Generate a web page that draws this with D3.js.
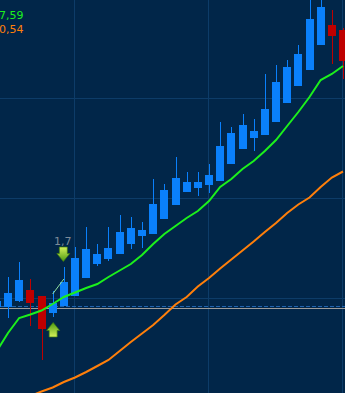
<!DOCTYPE html>
<html>
<head>
<meta charset="utf-8">
<script src="https://cdn.jsdelivr.net/npm/d3@7"></script>
<style>
  body { margin: 0; background: #012649; }
  svg { display: block; }
</style>
</head>
<body>
<script>
// Chart size
const width = 345;
const height = 393;

// Candle data: index, open, high, low, close
const idx   = [-1, 0, 1, 2, 3, 4, 5, 6, 7, 8, 9, 10, 11, 12, 13, 14, 15, 16, 17, 18, 19, 20, 21, 22, 23, 24, 25, 26, 27, 28, 29, 30];
const open  = [1.591, 1.591, 1.597, 1.608, 1.602, 1.585, 1.592, 1.602, 1.620, 1.634, 1.639, 1.644, 1.654, 1.662, 1.664, 1.679, 1.693, 1.706, 1.710, 1.713, 1.717, 1.734, 1.749, 1.760, 1.763, 1.776, 1.795, 1.812, 1.828, 1.853, 1.873, 1.868];
const high  = [1.598, 1.621, 1.636, 1.619, 1.602, 1.607, 1.631, 1.651, 1.671, 1.654, 1.671, 1.683, 1.681, 1.676, 1.719, 1.714, 1.741, 1.726, 1.726, 1.734, 1.776, 1.771, 1.784, 1.779, 1.824, 1.833, 1.838, 1.853, 1.906, 1.906, 1.888, 1.870];
const low   = [1.590, 1.580, 1.596, 1.572, 1.538, 1.581, 1.592, 1.602, 1.620, 1.632, 1.637, 1.644, 1.649, 1.650, 1.664, 1.679, 1.693, 1.706, 1.702, 1.705, 1.717, 1.734, 1.749, 1.747, 1.763, 1.776, 1.795, 1.812, 1.828, 1.853, 1.834, 1.819];
const close = [1.597, 1.605, 1.618, 1.595, 1.569, 1.595, 1.616, 1.640, 1.649, 1.644, 1.650, 1.666, 1.670, 1.668, 1.694, 1.708, 1.720, 1.716, 1.716, 1.723, 1.752, 1.765, 1.773, 1.767, 1.789, 1.816, 1.831, 1.844, 1.879, 1.891, 1.862, 1.837];

// Moving averages
const maFast = [1.547, 1.565, 1.580, 1.5835, 1.5875, 1.594, 1.601, 1.6055, 1.610, 1.614, 1.621, 1.6275, 1.634, 1.643, 1.654, 1.664, 1.672, 1.680, 1.687, 1.697, 1.711, 1.719, 1.729, 1.737, 1.747, 1.758, 1.772, 1.786, 1.801, 1.818, 1.824, 1.832];
const maSlow = [1.488, 1.492, 1.497, 1.502, 1.5065, 1.5105, 1.516, 1.5205, 1.526, 1.532, 1.538, 1.547, 1.556, 1.5645, 1.573, 1.583, 1.5935, 1.601, 1.6115, 1.620, 1.6295, 1.6385, 1.6475, 1.6565, 1.666, 1.675, 1.685, 1.6935, 1.7005, 1.711, 1.7205, 1.7265];

// Legend values, grid levels, levels and signals
const legendTexts = ["7,59", "0,54"];
const gridPrices = [1.6, 1.7, 1.8];
const gridIdx = [6, 18, 30];
const dashedLevel = 1.592;
const solidLevel = 1.590;
const trendSeg = [[4, 1.604], [5, 1.619]];
const signalLabel = "1,7";

const x = d3.scaleLinear().domain([0, 30]).range([8, 343]);
const y = d3.scaleLinear().domain([1.505, 1.898]).range([height, 0]);

const svg = d3.select("body")
    .append("svg")
    .attr("width", width)
    .attr("height", height);

svg.append("rect")
    .attr("width", width)
    .attr("height", height)
    .attr("fill", "#012649");

// gradient for arrows
const defs = svg.append("defs");
const grad = defs.append("linearGradient")
    .attr("id", "arrowGrad")
    .attr("x1", 0).attr("y1", 0).attr("x2", 0).attr("y2", 1);
grad.append("stop").attr("offset", "0%").attr("stop-color", "#d6f25a");
grad.append("stop").attr("offset", "100%").attr("stop-color", "#4c9a12");

// grid
svg.selectAll(".hgrid")
    .data(gridPrices)
    .enter()
    .append("line")
    .attr("x1", 0)
    .attr("x2", width)
    .attr("y1", d => Math.round(y(d)) + 0.5)
    .attr("y2", d => Math.round(y(d)) + 0.5)
    .attr("stroke", "#0d3c68")
    .attr("stroke-width", 1);

svg.selectAll(".vgrid")
    .data(gridIdx)
    .enter()
    .append("line")
    .attr("x1", d => Math.round(x(d)) - 0.5)
    .attr("x2", d => Math.round(x(d)) - 0.5)
    .attr("y1", 0)
    .attr("y2", height)
    .attr("stroke", "#0d3c68")
    .attr("stroke-width", 1);

// level lines
svg.append("line")
    .attr("x1", 0).attr("x2", width)
    .attr("y1", Math.round(y(dashedLevel)) + 0.5)
    .attr("y2", Math.round(y(dashedLevel)) + 0.5)
    .attr("stroke", "#2163ad")
    .attr("stroke-dasharray", "4,2");

svg.append("line")
    .attr("x1", 0).attr("x2", width)
    .attr("y1", Math.round(y(solidLevel)) + 0.5)
    .attr("y2", Math.round(y(solidLevel)) + 0.5)
    .attr("stroke", "#9c9c9c");

// candles
const candles = idx.map((d, i) => ({
    i: d, open: open[i], high: high[i], low: low[i], close: close[i]
}));

const g = svg.append("g");
const col = d => d.close >= d.open ? "#0a80fb" : "#bf0000";

g.selectAll(".wick")
    .data(candles)
    .enter()
    .append("rect")
    .attr("x", d => Math.round(x(d.i)))
    .attr("width", 1)
    .attr("y", d => y(d.high))
    .attr("height", d => y(d.low) - y(d.high))
    .attr("fill", col);

g.selectAll(".body")
    .data(candles)
    .enter()
    .append("rect")
    .attr("x", d => Math.round(x(d.i)) - 4)
    .attr("width", 8)
    .attr("y", d => y(Math.max(d.open, d.close)))
    .attr("height", d => Math.max(1, Math.abs(y(d.open) - y(d.close))))
    .attr("fill", col);

// moving averages
const line = d3.line()
    .x(d => x(d[0]))
    .y(d => y(d[1]));

svg.append("path")
    .datum(idx.map((d, i) => [d, maSlow[i]]))
    .attr("d", line)
    .attr("fill", "none")
    .attr("stroke", "#ff7f0a")
    .attr("stroke-width", 2);

svg.append("path")
    .datum(idx.map((d, i) => [d, maFast[i]]))
    .attr("d", line)
    .attr("fill", "none")
    .attr("stroke", "#1cf01c")
    .attr("stroke-width", 2);

// thin trend segment
svg.append("path")
    .datum(trendSeg)
    .attr("d", line)
    .attr("fill", "none")
    .attr("stroke", "#8fe0a0")
    .attr("stroke-width", 1);

// signal arrows
const arrowPath = "M-4,0 L4,0 L4,6.5 L6.5,6.5 L0,14.5 L-6.5,6.5 L-4,6.5 Z";

svg.append("path")
    .attr("d", arrowPath)
    .attr("transform", `translate(${x(5) - 0.5},${y(high[6]) - 20})`)
    .attr("fill", "url(#arrowGrad)")
    .attr("stroke", "#3d7a10")
    .attr("stroke-width", 0.7);

svg.append("path")
    .attr("d", arrowPath)
    .attr("transform", `translate(${x(4) + 0.5},${y(low[5]) + 20}) scale(1,-1)`)
    .attr("fill", "url(#arrowGrad)")
    .attr("stroke", "#3d7a10")
    .attr("stroke-width", 0.7);

svg.append("text")
    .attr("x", x(5) - 1)
    .attr("y", y(high[6]) - 22)
    .attr("text-anchor", "middle")
    .style("font-family", "DejaVu Sans, sans-serif")
    .style("font-size", "11px")
    .attr("fill", "#7d8b98")
    .text(signalLabel);

// legend values (cut at the left edge)
svg.selectAll(".legend")
    .data(legendTexts)
    .enter()
    .append("text")
    .attr("x", -1)
    .attr("y", (d, i) => 19 + i * 14)
    .style("font-family", "DejaVu Sans, sans-serif")
    .style("font-size", "11px")
    .attr("fill", (d, i) => i === 0 ? "#1cf01c" : "#ff7f0a")
    .text(d => d);
</script>
</body>
</html>
